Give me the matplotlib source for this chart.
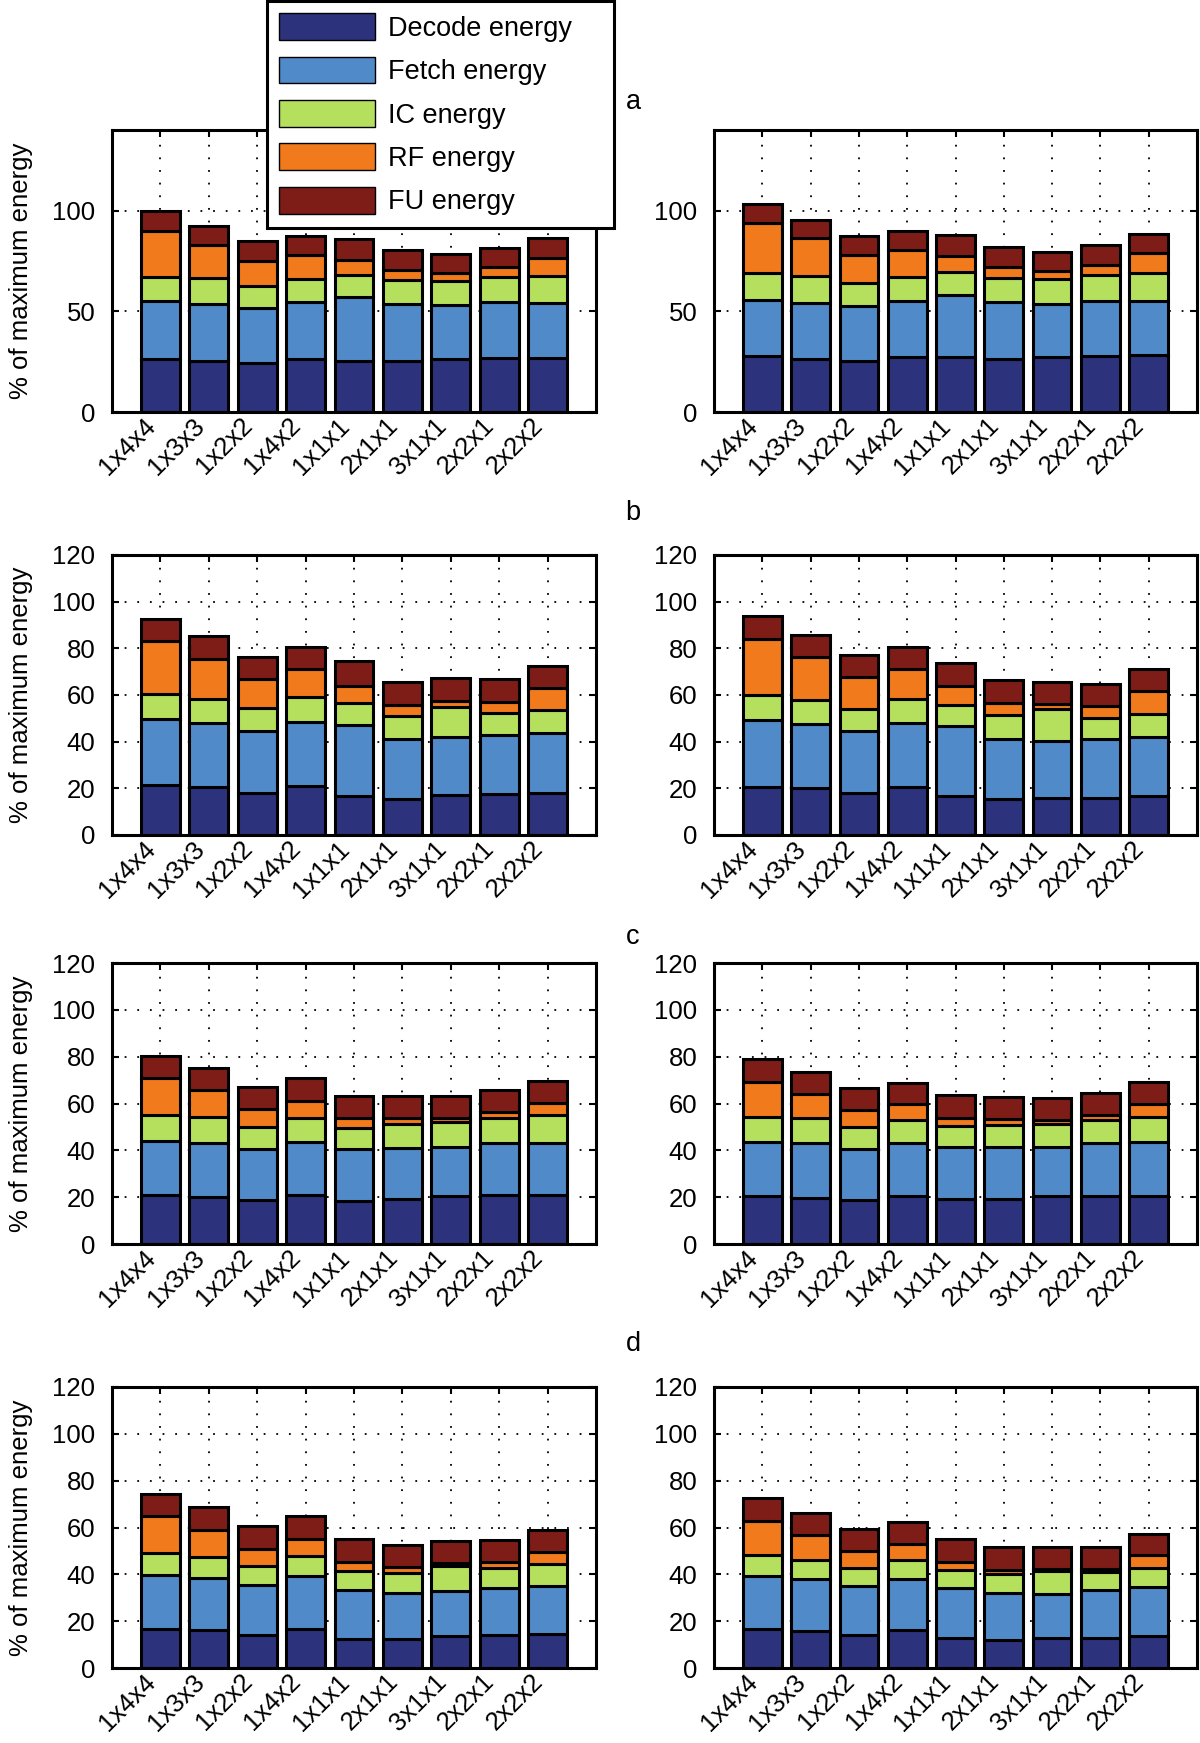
import matplotlib
matplotlib.use("Agg")
import matplotlib.pyplot as plt
import matplotlib.transforms as mtransforms
from matplotlib.patches import Patch
import numpy as np

plt.rcParams['font.family'] = ['Liberation Sans', 'DejaVu Sans']

configs = ["1x4x4", "1x3x3", "1x2x2", "1x4x2", "1x1x1", "2x1x1", "3x1x1", "2x2x1", "2x2x2"]
components = ["Decode energy", "Fetch energy", "IC energy", "RF energy", "FU energy"]
colors = ["#2D327D", "#508AC8", "#B5E05E", "#F07A1C", "#7E1C17"]

# panel a (left / right)
a_left_decode = [26.5, 25.5, 24.5, 26.5, 25.5, 25.5, 26.5, 26.8, 27.0]
a_left_fetch  = [28.5, 28.1, 27.0, 28.0, 31.5, 28.1, 26.6, 27.7, 27.1]
a_left_ic     = [12.2, 12.8, 11.1, 11.7, 11.0, 12.0, 12.0, 12.7, 13.4]
a_left_rf     = [22.9, 16.6, 12.6, 11.6, 7.3, 4.9, 3.8, 4.8, 9.2]
a_left_fu     = [9.9, 9.5, 9.6, 9.5, 10.5, 10.0, 9.7, 9.5, 9.6]

a_right_decode = [27.8, 26.5, 25.5, 27.5, 27.5, 26.5, 27.2, 27.8, 28.1]
a_right_fetch  = [27.8, 27.8, 27.1, 27.5, 30.8, 28.0, 26.4, 27.5, 27.0]
a_right_ic     = [13.4, 13.2, 11.6, 12.2, 11.4, 12.2, 12.6, 12.7, 13.9]
a_right_rf     = [24.9, 18.8, 13.6, 13.4, 7.8, 5.5, 3.8, 5.2, 9.8]
a_right_fu     = [9.4, 9.2, 9.6, 9.5, 10.2, 9.9, 9.6, 9.6, 9.4]

# panel b
b_left_decode = [21.4, 20.4, 18.1, 21.1, 16.9, 15.6, 17.3, 17.4, 18.1]
b_left_fetch  = [28.3, 27.5, 26.6, 27.5, 30.1, 25.5, 24.7, 25.5, 25.5]
b_left_ic     = [10.7, 10.4, 9.9, 10.4, 9.6, 9.8, 12.7, 9.2, 10.1]
b_left_rf     = [22.7, 17.1, 12.1, 12.0, 7.3, 4.8, 2.7, 5.0, 9.3]
b_left_fu     = [9.5, 9.9, 9.7, 9.4, 10.5, 10.0, 10.0, 9.9, 9.6]

b_right_decode = [20.7, 20.0, 17.9, 20.7, 16.6, 15.4, 16.0, 16.0, 16.9]
b_right_fetch  = [28.6, 27.4, 26.7, 27.2, 30.1, 25.7, 24.3, 25.1, 25.2]
b_right_ic     = [10.8, 10.5, 9.5, 10.4, 9.2, 10.2, 13.7, 9.2, 9.9]
b_right_rf     = [24.0, 18.5, 13.5, 13.0, 8.0, 5.1, 2.1, 5.1, 9.6]
b_right_fu     = [9.6, 9.5, 9.5, 9.4, 9.8, 9.9, 9.6, 9.3, 9.5]

# panel c
c_left_decode = [20.9, 20.0, 19.0, 20.9, 18.3, 19.4, 20.3, 20.9, 21.1]
c_left_fetch  = [23.1, 23.3, 21.4, 22.7, 22.1, 21.7, 21.1, 22.4, 22.2]
c_left_ic     = [11.3, 11.1, 9.7, 10.1, 9.3, 10.2, 10.7, 10.6, 11.8]
c_left_rf     = [15.8, 11.5, 7.5, 7.4, 3.9, 2.6, 1.8, 2.5, 5.0]
c_left_fu     = [9.3, 9.4, 9.5, 9.6, 9.7, 9.4, 9.4, 9.5, 9.5]

c_right_decode = [20.4, 19.7, 19.0, 20.3, 19.3, 19.3, 20.3, 20.4, 20.4]
c_right_fetch  = [23.2, 23.3, 21.4, 23.0, 22.1, 22.1, 21.1, 22.9, 23.2]
c_right_ic     = [10.7, 10.9, 9.7, 9.6, 8.9, 9.6, 10.0, 9.7, 10.7]
c_right_rf     = [15.0, 10.1, 7.2, 6.8, 3.6, 2.3, 1.6, 2.1, 5.6]
c_right_fu     = [9.6, 9.3, 9.3, 9.2, 9.7, 9.6, 9.4, 9.5, 9.2]

# panel d
d_left_decode = [16.7, 16.3, 14.1, 16.7, 12.4, 12.3, 13.7, 14.1, 14.7]
d_left_fetch  = [23.0, 22.3, 21.2, 22.4, 21.0, 19.7, 19.2, 20.2, 20.4]
d_left_ic     = [9.4, 8.8, 8.4, 8.6, 8.2, 8.4, 10.5, 8.6, 9.3]
d_left_rf     = [15.6, 11.6, 7.2, 7.2, 3.5, 2.6, 1.5, 2.2, 5.0]
d_left_fu     = [9.4, 9.9, 9.7, 9.8, 9.8, 9.7, 9.4, 9.6, 9.6]

d_right_decode = [16.7, 15.7, 14.1, 16.4, 13.0, 12.0, 12.6, 13.0, 13.7]
d_right_fetch  = [22.7, 22.4, 21.0, 21.7, 21.3, 20.0, 19.1, 20.1, 21.0]
d_right_ic     = [8.7, 8.2, 7.8, 8.2, 7.4, 8.3, 9.9, 7.9, 8.2]
d_right_rf     = [14.8, 10.7, 7.0, 6.7, 3.4, 1.7, 0.7, 1.3, 5.4]
d_right_fu     = [9.5, 9.3, 9.5, 9.4, 9.8, 9.7, 9.4, 9.4, 9.1]

panel_labels = ["a", "b", "c", "d"]

panels = [
    [(a_left_decode, a_left_fetch, a_left_ic, a_left_rf, a_left_fu),
     (a_right_decode, a_right_fetch, a_right_ic, a_right_rf, a_right_fu)],
    [(b_left_decode, b_left_fetch, b_left_ic, b_left_rf, b_left_fu),
     (b_right_decode, b_right_fetch, b_right_ic, b_right_rf, b_right_fu)],
    [(c_left_decode, c_left_fetch, c_left_ic, c_left_rf, c_left_fu),
     (c_right_decode, c_right_fetch, c_right_ic, c_right_rf, c_right_fu)],
    [(d_left_decode, d_left_fetch, d_left_ic, d_left_rf, d_left_fu),
     (d_right_decode, d_right_fetch, d_right_ic, d_right_rf, d_right_fu)],
]

W, H = 1200, 1743
fig = plt.figure(figsize=(W / 100, H / 100), dpi=100)

rows_px = [(130, 412), (555, 835), (963, 1244), (1387, 1668)]
cols_px = [(112, 596), (714, 1197)]
label_y_px = [102, 513, 937, 1344]

FS = 18.5
LW = 2.2
x = np.arange(1, len(configs) + 1)
shift = mtransforms.ScaledTranslation(7 / 100, 0, fig.dpi_scale_trans)

for r, (top, bot) in enumerate(rows_px):
    for c, (left, right) in enumerate(cols_px):
        ax = fig.add_axes([left / W, 1 - bot / H, (right - left) / W, (bot - top) / H])
        series = panels[r][c]
        bottom = np.zeros(len(configs))
        for vals, col in zip(series, colors):
            vals = np.asarray(vals, dtype=float)
            ax.bar(x, vals, width=0.8, bottom=bottom, color=col,
                   edgecolor="black", linewidth=LW, zorder=2)
            bottom = bottom + vals
        ax.set_xlim(0, 10)
        if r == 0:
            ax.set_ylim(0, 140)
            ax.set_yticks([0, 50, 100])
        else:
            ax.set_ylim(0, 120)
            ax.set_yticks(np.arange(0, 121, 20))
        ax.set_xticks(x)
        ax.set_xticklabels(configs, rotation=45, ha="right", va="top",
                           rotation_mode="default", fontsize=19)
        for lbl in ax.get_xticklabels():
            lbl.set_transform(lbl.get_transform() + shift)
        ax.set_axisbelow(True)
        ax.grid(True, color="black", linestyle=(0, (1, 6)), linewidth=1.3)
        ax.tick_params(direction="in", top=True, right=True, length=5, width=1.5,
                       labelsize=FS)
        ax.tick_params(axis="x", pad=1)
        ax.tick_params(axis="y", pad=12)
        for s in ax.spines.values():
            s.set_linewidth(LW)
        if c == 0:
            ax.set_ylabel("% of maximum energy", fontsize=FS, labelpad=14)
    fig.text(633 / W, 1 - label_y_px[r] / H, panel_labels[r], fontsize=FS + 1,
             ha="center", va="center")

handles = [Patch(facecolor=col, edgecolor="black", linewidth=1.0) for col in colors]
leg = fig.legend(handles, components, loc="upper left",
                 bbox_to_anchor=(267 / W, 1 - 229 / H, 347 / W, 228 / H),
                 mode="expand", borderaxespad=0,
                 fontsize=19.5, handlelength=3.55, handleheight=1.14,
                 handletextpad=0.45, labelspacing=0.55, borderpad=0.45,
                 fancybox=False, framealpha=1, edgecolor="black")
leg.get_frame().set_linewidth(LW)
leg.set_zorder(10)

fig.savefig("out.png", dpi=100)
